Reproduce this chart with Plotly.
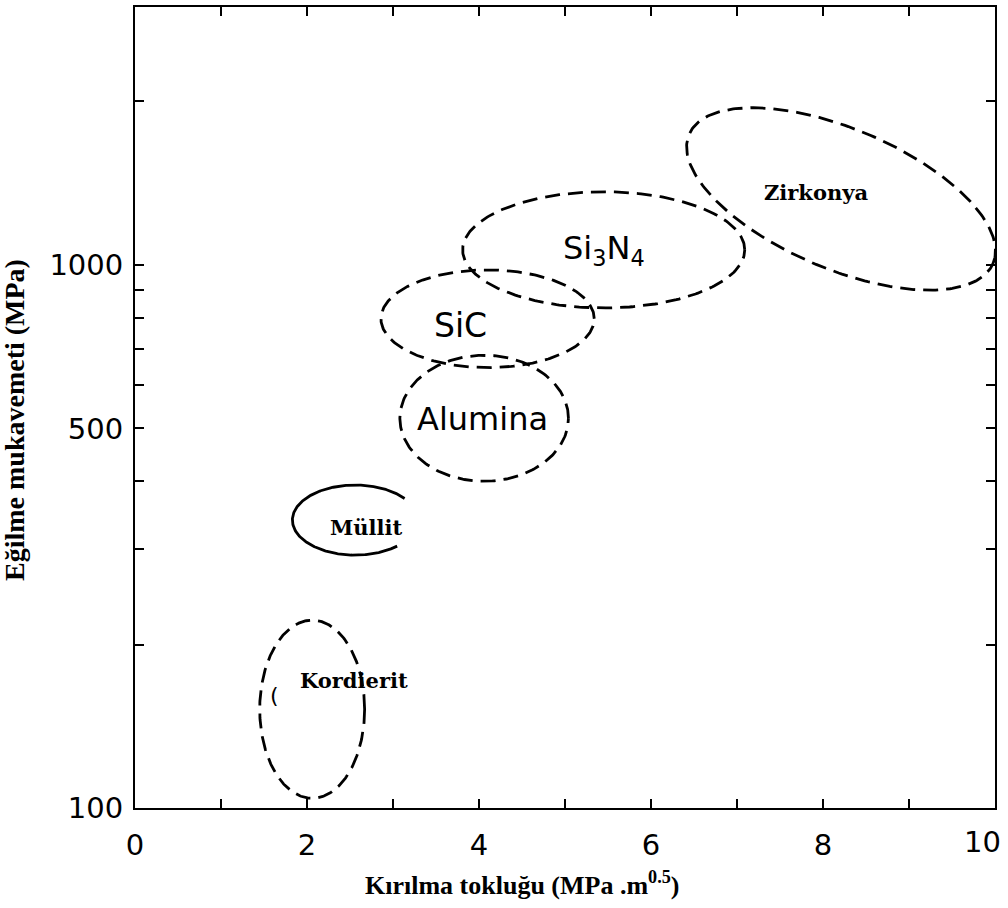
import numpy as np
import plotly.graph_objects as go

# ---- data (fracture toughness MPa.m^0.5 vs. bending strength MPa) ----
materials = ["Kordierit", "Müllit", "Alumina", "SiC", "Si3N4", "Zirkonya"]
center_toughness = [2.06, 2.56, 4.06, 4.10, 5.45, 8.21]
center_strength = [152, 339, 522, 796, 1066, 1323]
half_toughness = [0.61, 0.73, 0.98, 1.24, 1.64, 1.92]      # x half-extent
half_log_strength = [0.164, 0.0645, 0.116, 0.090, 0.107, 0.129]  # decades
tilt_deg = [0, 0, 0, 0, 0, -23]
arc_start_deg = [0, 38, 0, 0, 0, 0]
arc_end_deg = [360, 312, 360, 360, 360, 360]
dashed = [True, False, True, True, True, True]

label_text = ["Kordierit", "Müllit", "Alumina", "SiC",
              "Si<sub>3</sub>N<sub>4</sub>", "Zirkonya"]
label_x = [2.55, 2.69, 4.04, 3.78, 5.45, 7.92]
label_y = [172, 329, 520, 772, 1066, 1360]

x_tickvals = list(range(0, 11))
x_ticktext = ["0", "", "2", "", "4", "", "6", "", "8", "", ""]
x_last_label = "10"
y_tickvals = [100, 200, 300, 400, 500, 600, 700, 800, 900, 1000, 2000]
y_ticktext = ["100", "", "", "", "500", "", "", "", "", "1000", ""]

X_RANGE = [0, 10]
Y_RANGE_LOG = [2, 3.475]

# ---- layout geometry ----
W, H = 1008, 908
ML, MR, MT, MB = 135, 13, 7, 100
PW, PH = W - ML - MR, H - MT - MB
PXX = PW / (X_RANGE[1] - X_RANGE[0])
PXD = PH / (Y_RANGE_LOG[1] - Y_RANGE_LOG[0])

fig = go.Figure()

for i, name in enumerate(materials):
    t = np.radians(np.linspace(arc_start_deg[i], arc_end_deg[i], 300))
    sx = half_toughness[i] * PXX
    sy = half_log_strength[i] * PXD
    u = sx * np.cos(t)
    v = sy * np.sin(t)
    phi = np.radians(tilt_deg[i])
    dx = u * np.cos(phi) - v * np.sin(phi)
    dy = u * np.sin(phi) + v * np.cos(phi)
    xs = center_toughness[i] + dx / PXX
    ys = 10 ** (np.log10(center_strength[i]) + dy / PXD)
    fig.add_trace(go.Scatter(
        x=xs, y=ys, mode="lines", name=name, showlegend=False,
        line=dict(color="black", width=2.8,
                  dash="15px,8px" if dashed[i] else "solid"),
        hoverinfo="skip"))

sans = "DejaVu Sans"
serif = "Liberation Serif"
wide_serif = "DejaVu Serif"
big_sizes = {"Alumina": 32, "SiC": 33, "Si3N4": 32}
for i, txt in enumerate(label_text):
    name = materials[i]
    if name in big_sizes:
        font = dict(family=sans, size=big_sizes[name], color="black")
        text = txt
    else:
        font = dict(family=wide_serif, size=21, color="black")
        text = f"<b>{txt}</b>"
    fig.add_annotation(x=label_x[i], y=np.log10(label_y[i]), text=text,
                       showarrow=False, xref="x", yref="y", font=font)

# small stray bracket inside the Kordierit region
fig.add_annotation(x=1.62, y=np.log10(161), text="(", showarrow=False,
                   font=dict(family=sans, size=22, color="black"))

# last x tick label, nudged left so it stays inside the page
fig.add_annotation(x=X_RANGE[1], y=-(842 - (MT + PH)) / PH, xref="x", yref="paper",
                   xanchor="right", yanchor="middle", xshift=8,
                   text=x_last_label, showarrow=False,
                   font=dict(family=sans, size=29, color="black"))

fig.add_annotation(x=(522 - ML) / PW, y=-(883 - (MT + PH)) / PH,
                   xref="paper", yref="paper", xanchor="center", yanchor="middle",
                   text="<b>Kırılma tokluğu (MPa .m<sup>0.5</sup>)</b>", showarrow=False,
                   font=dict(family=serif, size=26, color="black"))
fig.add_annotation(x=-(ML - 15) / PW, y=(MT + PH - 420) / PH,
                   xref="paper", yref="paper", textangle=-90,
                   xanchor="center", yanchor="middle",
                   text="<b>Eğilme mukavemeti (MPa)</b>", showarrow=False,
                   font=dict(family=serif, size=28, color="black"))

axis_common = dict(showgrid=False, zeroline=False, showline=True, linecolor="black",
                   linewidth=2, mirror="ticks", ticks="inside", ticklen=9,
                   tickwidth=2, tickcolor="black", automargin=False,
                   tickfont=dict(family=sans, size=29, color="black"))

fig.update_xaxes(range=X_RANGE, tickvals=x_tickvals, ticktext=x_ticktext,
                 ticklabelstandoff=10, **axis_common)
fig.update_yaxes(type="log", range=Y_RANGE_LOG, tickvals=y_tickvals,
                 ticktext=y_ticktext, ticklabelstandoff=4, **axis_common)

fig.update_layout(width=W, height=H, margin=dict(l=ML, r=MR, t=MT, b=MB,
                                                 autoexpand=False),
                  paper_bgcolor="white", plot_bgcolor="white")

fig.write_html("out.html")
